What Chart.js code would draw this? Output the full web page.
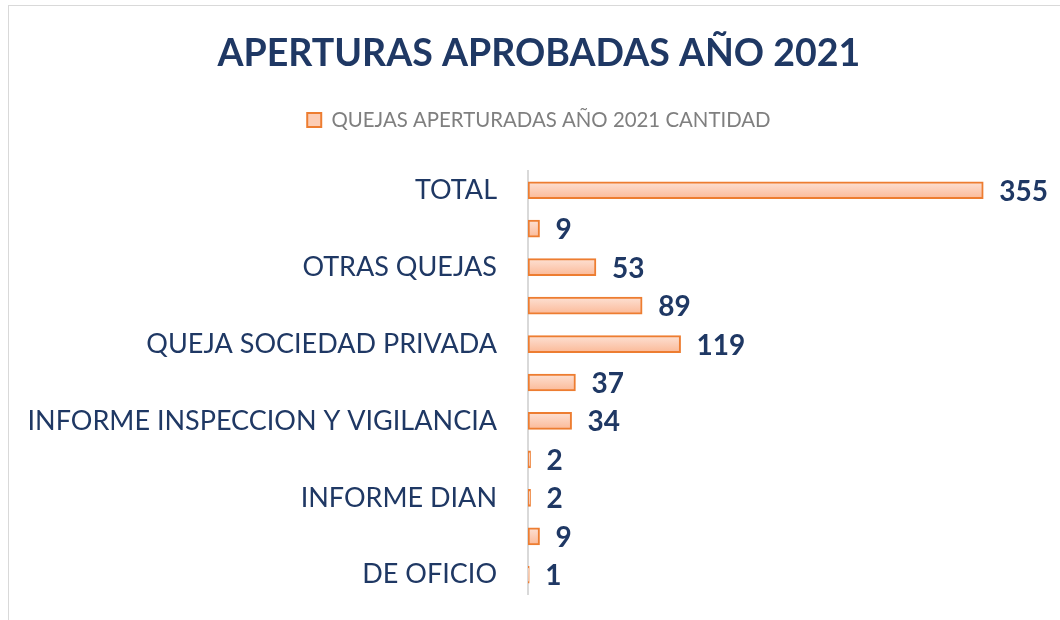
<!DOCTYPE html>
<html>
<head>
<meta charset="utf-8">
<script src="https://cdn.jsdelivr.net/npm/chart.js@4/dist/chart.umd.min.js"></script>
<style>
  html, body { margin: 0; padding: 0; background: #fff; overflow: hidden; }
  #frame { position: absolute; left: 8px; top: 5px; width: 1100px; height: 700px; border: 1.5px solid #d9d9d9; }
  #wrap { position: absolute; left: 0; top: 0; width: 1060px; height: 620px; }
</style>
</head>
<body>
<div id="frame"></div>
<div id="wrap"><canvas id="chart" width="1060" height="620"></canvas></div>
<script>
// categories top to bottom (Excel skipped every second label)
const categorias = [
    'TOTAL', '', 'OTRAS QUEJAS', '', 'QUEJA SOCIEDAD PRIVADA', '',
    'INFORME INSPECCION Y VIGILANCIA', '', 'INFORME DIAN', '', 'DE OFICIO'
];
const cantidades = [355, 9, 53, 89, 119, 37, 34, 2, 2, 9, 1];
const serieNombre = 'QUEJAS APERTURADAS AÑO 2021 CANTIDAD';
const titulo = 'APERTURAS APROBADAS AÑO 2021';
const ejeMax = 410;

const azul = '#1F3864';
const naranja = '#ED7D31';
const fuente = 'Lato, "Open Sans", sans-serif';

function barGradient(context) {
    const chart = context.chart;
    const yScale = chart.scales.y;
    if (!chart.chartArea || !yScale) return '#fccdb5';
    const yc = yScale.getPixelForValue(context.dataIndex);
    const g = chart.ctx.createLinearGradient(0, yc - 9, 0, yc + 9);
    g.addColorStop(0, '#fde2d5');
    g.addColorStop(0.5, '#fccdb6');
    g.addColorStop(1, '#fbb895');
    return g;
}

// value labels at the end of each bar
const etiquetas = {
    id: 'etiquetas',
    afterDatasetsDraw(chart) {
        const ctx = chart.ctx;
        const meta = chart.getDatasetMeta(0);
        ctx.save();
        ctx.font = 'bold 28px ' + fuente;
        ctx.fillStyle = azul;
        ctx.textAlign = 'left';
        ctx.textBaseline = 'middle';
        meta.data.forEach(function(bar, i) {
            ctx.fillText(String(cantidades[i]), bar.x + 16, bar.y + 1.5);
        });
        ctx.restore();
    }
};

new Chart(document.getElementById('chart').getContext('2d'), {
    type: 'bar',
    data: {
        labels: categorias,
        datasets: [{
            label: serieNombre,
            data: cantidades,
            backgroundColor: barGradient,
            borderColor: naranja,
            borderWidth: 2,
            borderSkipped: false,
            barThickness: 17
        }]
    },
    options: {
        indexAxis: 'y',
        responsive: false,
        animation: false,
        layout: { padding: { top: 0, left: 24, right: 6.2, bottom: 26 } },
        scales: {
            x: {
                position: 'top',
                min: 0,
                max: ejeMax,
                ticks: { display: false },
                grid: { display: false },
                border: { display: false },
                afterFit: function(s) { s.height = 30.8; }
            },
            y: {
                grid: {
                    display: true,
                    color: 'rgba(0,0,0,0)',
                    drawOnChartArea: false,
                    drawTicks: true,
                    tickLength: 31
                },
                border: { display: true, color: '#d9d9d9', width: 2 },
                ticks: {
                    autoSkip: false,
                    padding: 0,
                    color: azul,
                    font: { family: fuente, size: 27 }
                },
                afterFit: function(s) { s.width = 504; }
            }
        },
        plugins: {
            title: {
                display: true,
                text: titulo,
                color: azul,
                font: { family: fuente, size: 37.5, weight: 'bold', lineHeight: 1 },
                padding: { top: 35.5, bottom: 0 }
            },
            legend: {
                display: true,
                labels: {
                    boxWidth: 14,
                    boxHeight: 14,
                    padding: 36.8,
                    color: '#7f7f7f',
                    font: { family: fuente, size: 20.4 },
                    generateLabels: function() {
                        return [{
                            text: serieNombre,
                            fillStyle: '#fccdb5',
                            strokeStyle: naranja,
                            lineWidth: 2,
                            fontColor: '#7f7f7f',
                            hidden: false,
                            datasetIndex: 0
                        }];
                    }
                }
            },
            tooltip: { enabled: false }
        }
    },
    plugins: [etiquetas]
});
</script>
</body>
</html>
